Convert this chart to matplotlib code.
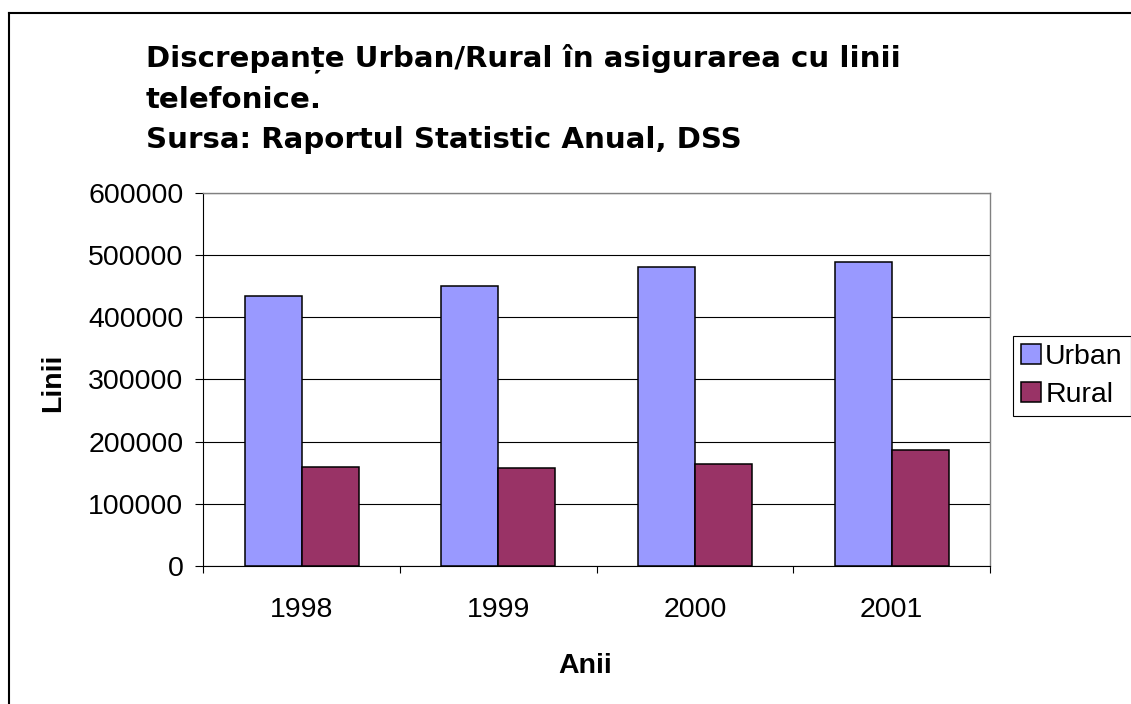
import matplotlib
matplotlib.use("Agg")
import matplotlib.pyplot as plt
from matplotlib.lines import Line2D
import numpy as np

years = ["1998", "1999", "2000", "2001"]
urban = [434000, 450500, 480000, 489000]
rural = [158500, 157500, 164500, 187000]
y_ticks = [0, 100000, 200000, 300000, 400000, 500000, 600000]
y_tick_labels = ["0", "100000", "200000", "300000", "400000", "500000", "600000"]
title_lines = ["Discrepanțe Urban/Rural în asigurarea cu linii",
               "telefonice.",
               "Sursa: Raportul Statistic Anual, DSS"]
x_label = "Anii"
y_label = "Linii"
series_names = ["Urban", "Rural"]

plt.rcParams['font.family'] = ['Liberation Sans', 'DejaVu Sans']
FS = 20.5
W, H = 1131, 704
DPI = 100
fig = plt.figure(figsize=(W / DPI, H / DPI), dpi=DPI)

def fx(px):
    return px / W

def fy(py):
    return 1 - py / H

# outer frame (left and top lines only visible)
fig.add_artist(Line2D([fx(9), fx(9)], [fy(13), fy(720)], color='black', lw=1.5, transform=fig.transFigure))
fig.add_artist(Line2D([fx(9), fx(1140)], [fy(13), fy(13)], color='black', lw=1.5, transform=fig.transFigure))

left, right, top, bottom = 203.3, 990, 192.7, 566
ax = fig.add_axes([fx(left), fy(bottom), fx(right) - fx(left), fy(top) - fy(bottom)])

x = np.arange(1, len(years) + 1)
w = 0.29
ax.bar(x - w / 2, urban, width=w, color='#9999FF', edgecolor='black', linewidth=1.1, label=series_names[0], zorder=3)
ax.bar(x + w / 2, rural, width=w, color='#993366', edgecolor='black', linewidth=1.1, label=series_names[1], zorder=3)

ax.set_xlim(0.5, len(years) + 0.5)
ax.set_ylim(0, 600000)
ax.set_yticks(y_ticks)
ax.set_yticklabels(y_tick_labels, fontsize=FS)
ax.tick_params(axis='y', direction='out', length=5.8, width=0.8, pad=8.6, color='black')

ax.set_xticks(np.arange(0.5, len(years) + 1, 1.0))
ax.set_xticklabels([])
ax.set_xticks(x, minor=True)
ax.set_xticklabels(years, minor=True, fontsize=FS)
ax.tick_params(axis='x', which='major', direction='out', length=5, width=0.8, color='black')
ax.tick_params(axis='x', which='minor', length=0, pad=22.5)

ax.yaxis.grid(True, color='black', linewidth=0.8, zorder=0)
ax.set_axisbelow(True)
for s in ['top', 'right']:
    ax.spines[s].set_color('#808080')
    ax.spines[s].set_linewidth(1.0)
for s in ['left', 'bottom']:
    ax.spines[s].set_color('black')
    ax.spines[s].set_linewidth(0.8)

# axis labels
fig.text(fx(585.5), fy(673), x_label, fontsize=FS, fontweight='bold', ha='center', va='baseline')
fig.text(fx(53.5), fy(382.5), y_label, fontsize=FS, fontweight='bold', ha='center', va='center', rotation=90)

# title (wide bold face to match the stretched title of the reference)
baselines = [66.5, 107.8, 148.2]
for line, b in zip(title_lines, baselines):
    fig.text(fx(146), fy(b), line, fontsize=21.1, fontweight='bold', ha='left', va='baseline',
             family=['DejaVu Sans'])

leg = fig.legend(loc='upper left', bbox_to_anchor=(fx(1013), fy(336)), fontsize=FS,
                 frameon=True, fancybox=False, edgecolor='black', framealpha=1,
                 handlelength=0.7, handleheight=0.7, handletextpad=0.15,
                 borderpad=0.28, labelspacing=0.42, borderaxespad=0)
leg.get_frame().set_linewidth(0.8)

fig.savefig("out.png", dpi=DPI)
